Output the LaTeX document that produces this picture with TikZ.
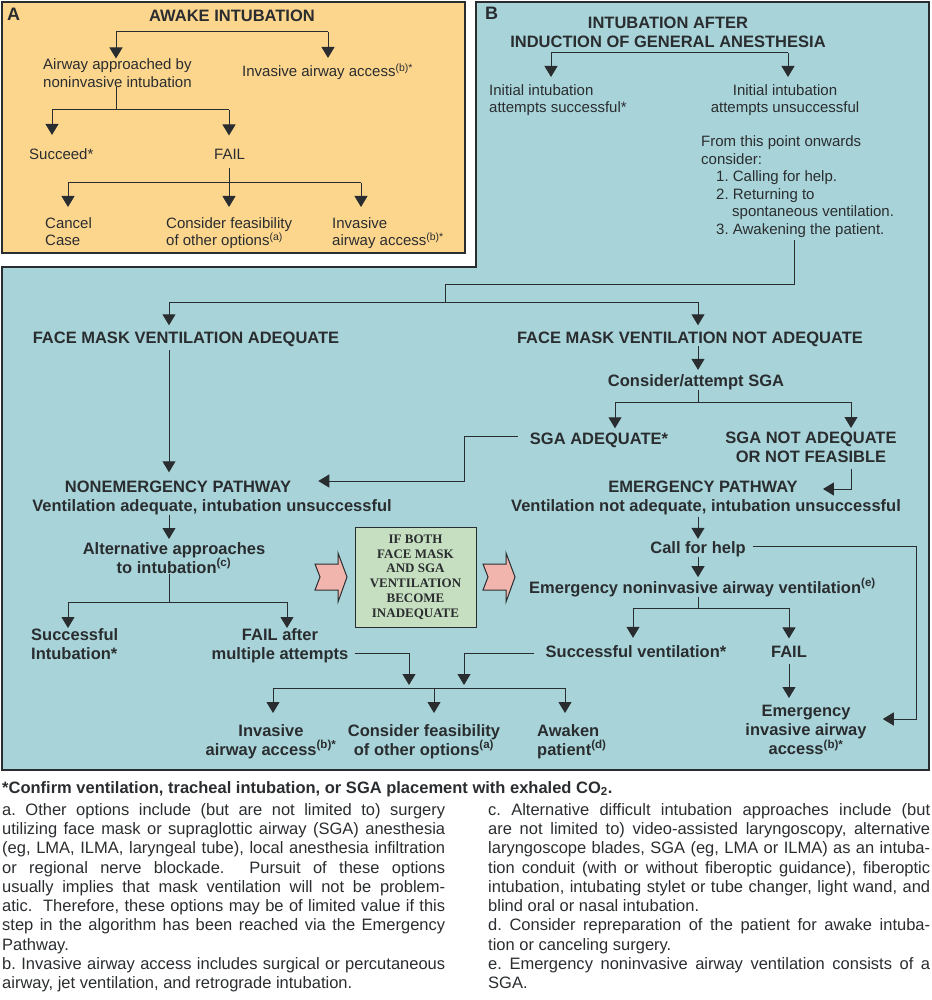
\documentclass[tikz,border=0pt]{standalone}
\usepackage{fontspec}
\setmainfont{Liberation Sans}
\newfontfamily\serifbox{Liberation Serif}
\usetikzlibrary{arrows.meta, positioning}
\definecolor{ink}{HTML}{2A2D2F}
\definecolor{awake}{HTML}{FDD68E}
\definecolor{general}{HTML}{A8D4D9}
\definecolor{boxgreen}{HTML}{C6DFC0}
\definecolor{pinkc}{HTML}{F2B5AE}
\newcommand{\nt}[1]{\textsuperscript{#1}}
\setlength{\parindent}{0pt}
\tolerance=10000
\hbadness=10000
\frenchspacing
\tikzset {
    >={Triangle[width=13pt,length=11pt]},
    wire/.style={draw=ink, line width=1pt},
    arr/.style={wire, ->},
    txt/.style={inner sep=0pt, text=ink, font=\fontsize{15}{17.5}\selectfont},
    btxt/.style={inner sep=0pt, text=ink, font=\fontsize{16.5}{19}\selectfont\bfseries},
    label/.style={inner sep=0pt, text=ink, font=\fontsize{18}{18}\selectfont\bfseries, anchor=base west},
    fnote/.style={inner sep=0pt, text=ink, font=\fontsize{16.5}{19.3}\selectfont, align=justify, anchor=north west},
    chevron/.style={draw=ink, line width=1pt, fill=pinkc}
}

\begin{document}
\begin{tikzpicture}[x=1pt, y=-1pt]
\useasboundingbox (0,0) rectangle (931,1000);

% panels
\draw[wire, line width=1.2pt, fill=awake] (2,2) rectangle (465,253);
\draw[wire, line width=1.2pt, fill=general] (476,2) -- (929,2) -- (929,770) -- (2,770) -- (2,267) -- (476,267) -- cycle;

% A: awake intubation
\node[label] (labA) at (7,21) {A};
\node[btxt, anchor=base] (titleA) at (232,22) {AWAKE INTUBATION};
\node[txt, align=left, anchor=north west] (aprA) at (43,58.5) {Airway approached by\\noninvasive intubation};
\node[txt, anchor=base west] (invA1) at (242,77) {Invasive airway access\nt{(b)*}};
\node[txt, anchor=base west] (succA) at (29,160) {Succeed*};
\node[txt, anchor=base west] (failA) at (214,160) {FAIL};
\node[txt, align=left, anchor=north west] (cancA) at (45,217) {Cancel\\Case};
\node[txt, align=left, anchor=north west] (consA) at (166,217) {Consider feasibility\\of other options\nt{(a)}};
\node[txt, align=left, anchor=north west] (invA2) at (332,217) {Invasive\\airway access\nt{(b)*}};

\coordinate (a1) at (116,32);
\coordinate (a2) at (328,32);
\draw[wire] (a1) -- (a2);
\draw[arr] (a1) -- (a1 |- aprA.north);
\draw[arr, shorten >=6pt] (a2) -- (a2 |- invA1.north);
\coordinate (a3) at (116,110);
\coordinate (a4) at (52,110);
\coordinate (a5) at (229,110);
\draw[wire] (aprA.south -| a3) -- (a3);
\draw[wire] (a4) -- (a5);
\draw[arr, shorten >=14pt] (a4) -- (a4 |- succA.north);
\draw[arr, shorten >=14pt] (a5) -- (a5 |- failA.north);
\coordinate (a6) at (229,183);
\coordinate (a7) at (68,183);
\coordinate (a8) at (361,183);
\draw[wire, shorten <=8pt] (failA.south -| a6) -- (a6);
\draw[wire] (a7) -- (a8);
\foreach \c/\n in {a7/cancA, a6/consA, a8/invA2}
    \draw[arr, shorten >=10pt] (\c) -- (\c |- \n.north);

% B: general anesthesia
\node[label] (labB) at (485,20) {B};
\node[btxt, align=center, anchor=north] (titleB) at (668,17) {INTUBATION AFTER\\INDUCTION OF GENERAL ANESTHESIA};
\node[txt, align=left, anchor=north west] (initS) at (489,84) {Initial intubation\\attempts successful*};
\node[txt, align=center, anchor=north] (initU) at (785,84) {Initial intubation\\attempts unsuccessful};
\node[txt, align=left, anchor=north west] (onward) at (701,135.5) {From this point onwards\\consider:\\\hspace*{15pt}1. Calling for help.\\\hspace*{15pt}2. Returning to\\\hspace*{31pt}spontaneous ventilation.\\\hspace*{15pt}3. Awakening the patient.};

\coordinate (b1) at (551,53);
\coordinate (b2) at (788,53);
\draw[wire] (b1) -- (b2);
\draw[arr, shorten >=7pt] (b1) -- (b1 |- initS.north);
\draw[arr, shorten >=7pt] (b2) -- (b2 |- initU.north);

\node[btxt, anchor=base] (fmA) at (186,343) {FACE MASK VENTILATION ADEQUATE};
\node[btxt, anchor=base] (fmN) at (690,343) {FACE MASK VENTILATION NOT ADEQUATE};

\coordinate (b3) at (794,284);
\coordinate (b4) at (445,302);
\coordinate (b5) at (169,302);
\coordinate (b6) at (698,302);
\draw[wire, shorten <=3pt] (onward.south -| b3) -- (b3) -| (b4);
\draw[wire] (b5) -- (b6);
\draw[arr, shorten >=6pt] (b5) -- (b5 |- fmA.north);
\draw[arr, shorten >=6pt] (b6) -- (b6 |- fmN.north);

% nonemergency side
\node[btxt, anchor=base] (nonE) at (178,492) {NONEMERGENCY PATHWAY};
\node[btxt, anchor=base] (nonEsub) at (212,511) {Ventilation adequate, intubation unsuccessful};
\node[btxt, align=center, anchor=north] (altA) at (174,542) {Alternative approaches\\to intubation\nt{(c)}};
\node[btxt, align=left, anchor=north west] (succI) at (31,628) {Successful\\Intubation*};
\node[btxt, align=center, anchor=north] (failM) at (280,628) {FAIL after\\multiple attempts};

\draw[arr, shorten <=4pt, shorten >=8pt] (fmA.south -| b5) -- (b5 |- nonE.north);
\draw[arr, shorten >=3pt] (nonEsub.south -| b5) -- (b5 |- altA.north);
\coordinate (l1) at (169,602);
\coordinate (l2) at (68,602);
\coordinate (l3) at (287,602);
\draw[wire] (altA.south -| l1) -- (l1);
\draw[wire] (l2) -- (l3);
\draw[arr] (l2) -- (l2 |- succI.north);
\draw[arr] (l3) -- (l3 |- failM.north);

% emergency side
\node[btxt, anchor=base] (cSGA) at (696,386) {Consider/attempt SGA};
\node[btxt, anchor=base] (sgaA) at (599,444) {SGA ADEQUATE*};
\node[btxt, align=center, anchor=north] (sgaN) at (811,432) {SGA NOT ADEQUATE\\OR NOT FEASIBLE};
\node[btxt, anchor=base] (emP) at (703,492) {EMERGENCY PATHWAY};
\node[btxt, anchor=base] (emPsub) at (706,511) {Ventilation not adequate, intubation unsuccessful};
\node[btxt, anchor=base] (help) at (698,553) {Call for help};
\node[btxt, anchor=base west] (eniv) at (529,593) {Emergency noninvasive airway ventilation\nt{(e)}};
\node[btxt, anchor=base] (succV) at (636,657) {Successful ventilation*};
\node[btxt, anchor=base] (failR) at (789,657) {FAIL};
\node[btxt, align=center, anchor=north] (eia) at (806,705) {Emergency\\invasive airway\\access\nt{(b)*}};

\draw[arr, shorten >=4pt] (fmN.south -| b6) -- (b6 |- cSGA.north);
\coordinate (r1) at (698,402);
\coordinate (r2) at (615,402);
\coordinate (r3) at (851,402);
\draw[wire] (cSGA.south -| r1) -- (r1);
\draw[wire] (r2) -- (r3);
\draw[arr, shorten >=4pt] (r2) -- (r2 |- sgaA.north);
\draw[arr, shorten >=4pt] (r3) -- (r3 |- sgaN.north);
\coordinate (r4) at (464,436);
\coordinate (r5) at (464,481);
\draw[arr, shorten <=12pt, shorten >=27pt] (sgaA.west |- r4) -- (r4) -- (r5) -- (r5 -| nonE.east);
\coordinate (r6) at (851,489);
\draw[arr, shorten <=6pt, shorten >=25pt] (sgaN.south -| r6) -- (r6) -- (r6 -| emP.east);
\draw[arr, shorten <=2pt, shorten >=2pt] (emPsub.south -| b6) -- (b6 |- help.north);
\draw[arr, shorten >=1pt] (help.south -| b6) -- (b6 |- eniv.north);
\coordinate (r7) at (916,546);
\coordinate (r8) at (916,719);
\draw[arr, shorten <=7pt, shorten >=16pt] (help.east |- r7) -- (r7) -- (r8) -- (r8 -| eia.east);
\coordinate (r9) at (698,608);
\coordinate (r10) at (633,608);
\coordinate (r11) at (789,608);
\draw[wire] (eniv.south -| r9) -- (r9);
\draw[wire] (r10) -- (r11);
\draw[arr, shorten >=7pt] (r10) -- (r10 |- succV.north);
\draw[arr, shorten >=7pt] (r11) -- (r11 |- failR.north);
\draw[arr, shorten <=7pt, shorten >=7pt] (failR.south) -- (failR.south |- eia.north);

% both pathways meet
\node[btxt, align=center, anchor=north] (invM) at (271,724) {Invasive\\airway access\nt{(b)*}};
\node[btxt, align=center, anchor=north] (consM) at (424,724) {Consider feasibility\\of other options\nt{(a)}};
\node[btxt, align=left, anchor=north west] (awk) at (537,724) {Awaken\\patient\nt{(d)}};

\coordinate (m1) at (434,688);
\coordinate (m2) at (273,688);
\coordinate (m3) at (565,688);
\coordinate (m4) at (409,653);
\coordinate (m5) at (464,653);
\draw[arr, shorten <=6pt, shorten >=3pt] (m4 -| failM.east) -- (m4) -- (m4 |- m1);
\draw[arr, shorten <=11pt, shorten >=3pt] (m5 -| succV.west) -- (m5) -- (m5 |- m1);
\draw[wire] (m2) -- (m3);
\foreach \c/\n in {m2/invM, m1/consM, m3/awk}
    \draw[arr, shorten >=11pt] (\c) -- (\c |- \n.north);

% crossover box
\node[draw=ink, line width=1pt, fill=boxgreen, minimum width=121pt, minimum height=100pt, inner sep=0pt,
      align=center, text=ink, font=\serifbox\bfseries\fontsize{13}{14.8}\selectfont] (both) at (415.5,577)
      {IF BOTH\\FACE MASK\\AND SGA\\VENTILATION\\BECOME\\INADEQUATE};
\foreach \dx in {0,168}
    \draw[chevron, xshift=\dx] (315,564) -- (338,564) -- (338,553) -- (347,577) -- (338,602) -- (338,590) -- (315,590) -- (320,577) -- cycle;

% notes
\node[btxt, anchor=base west] (star) at (2,793) {*Confirm ventilation, tracheal intubation, or SGA placement with exhaled CO\textsubscript{2}.};
\node[fnote, text width=443pt] (noteL) at (2,803) {a. Other options include (but are not limited to) surgery\linebreak
utilizing face mask or supraglottic airway (SGA) anesthesia\linebreak
(eg, LMA, ILMA, laryngeal tube), local anesthesia infiltration\linebreak
or regional nerve blockade.\ \ Pursuit of these options\linebreak
usually implies that mask ventilation will not be problem-\linebreak
atic.\ \ Therefore, these options may be of limited value if this\linebreak
step in the algorithm has been reached via the Emergency\linebreak
Pathway.\par
b. Invasive airway access includes surgical or percutaneous\linebreak
airway, jet ventilation, and retrograde intubation.};
\node[fnote, text width=442pt] (noteR) at (488,803) {c. Alternative difficult intubation approaches include (but\linebreak
are not limited to) video-assisted laryngoscopy, alternative\linebreak
laryngoscope blades, SGA (eg, LMA or ILMA) as an intuba-\linebreak
tion conduit (with or without fiberoptic guidance), fiberoptic\linebreak
intubation, intubating stylet or tube changer, light wand, and\linebreak
blind oral or nasal intubation.\par
d. Consider repreparation of the patient for awake intuba-\linebreak
tion or canceling surgery.\par
e. Emergency noninvasive airway ventilation consists of a\linebreak
SGA.};
\end{tikzpicture}
\end{document}
